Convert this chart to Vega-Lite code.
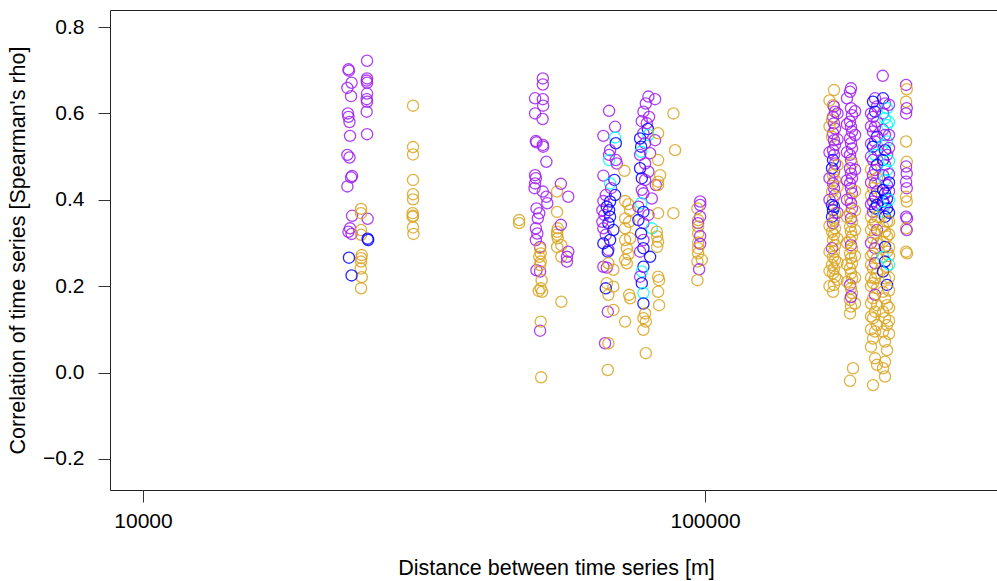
{
  "$schema": "https://vega.github.io/schema/vega-lite/v6.json",
  "width": 892,
  "height": 480,
  "autosize": {"type": "none"},
  "padding": {"left": 110, "top": 10, "right": 0, "bottom": 91},
  "background": "white",
  "config": {
    "view": {"stroke": "#222", "strokeWidth": 1},
    "axis": {"labelFont": "Liberation Sans", "titleFont": "Liberation Sans", "labelFontSize": 21, "titleFontSize": 21.5, "titleFontWeight": "normal", "labelColor": "#000", "titleColor": "#000", "tickColor": "#333", "tickSize": 12, "domain": false, "grid": false}
  },
  "data": {"values": [
    {"d":23200,"r":0.702,"g":"p"},{"d":23250,"r":0.699,"g":"p"},{"d":23500,"r":0.671,"g":"p"},{"d":23100,"r":0.659,"g":"p"},{"d":23450,"r":0.640,"g":"p"},{"d":23150,"r":0.600,"g":"p"},{"d":23200,"r":0.592,"g":"p"},{"d":23300,"r":0.580,"g":"p"},{"d":23350,"r":0.548,"g":"p"},{"d":23100,"r":0.504,"g":"p"},{"d":23300,"r":0.498,"g":"p"},{"d":23550,"r":0.455,"g":"p"},{"d":23450,"r":0.452,"g":"p"},{"d":23100,"r":0.431,"g":"p"},{"d":23550,"r":0.363,"g":"p"},{"d":23350,"r":0.334,"g":"p"},{"d":23200,"r":0.326,"g":"p"},{"d":23500,"r":0.321,"g":"p"},
    {"d":25040,"r":0.722,"g":"p"},{"d":25040,"r":0.681,"g":"p"},{"d":25000,"r":0.676,"g":"p"},{"d":25040,"r":0.671,"g":"p"},{"d":25040,"r":0.646,"g":"p"},{"d":25000,"r":0.633,"g":"p"},{"d":25040,"r":0.627,"g":"p"},{"d":25000,"r":0.604,"g":"p"},{"d":25040,"r":0.552,"g":"p"},{"d":25100,"r":0.356,"g":"p"},
    {"d":24430,"r":0.379,"g":"o"},{"d":24430,"r":0.369,"g":"o"},{"d":24430,"r":0.330,"g":"o"},{"d":24430,"r":0.319,"g":"o"},{"d":24500,"r":0.272,"g":"o"},{"d":24450,"r":0.265,"g":"o"},{"d":24430,"r":0.257,"g":"o"},{"d":24400,"r":0.241,"g":"o"},{"d":24500,"r":0.221,"g":"o"},{"d":24430,"r":0.195,"g":"o"},
    {"d":30230,"r":0.618,"g":"o"},{"d":30230,"r":0.522,"g":"o"},{"d":30230,"r":0.505,"g":"o"},{"d":30230,"r":0.446,"g":"o"},{"d":30230,"r":0.413,"g":"o"},{"d":30230,"r":0.401,"g":"o"},{"d":30180,"r":0.369,"g":"o"},{"d":30230,"r":0.363,"g":"o"},{"d":30180,"r":0.361,"g":"o"},{"d":30230,"r":0.336,"g":"o"},{"d":30280,"r":0.321,"g":"o"},
    {"d":23250,"r":0.266,"g":"b"},{"d":23500,"r":0.225,"g":"b"},{"d":25100,"r":0.310,"g":"b"},{"d":25150,"r":0.307,"g":"b"},

    {"d":46684,"r":0.353,"g":"o"},{"d":46684,"r":0.346,"g":"o"},
    {"d":51450,"r":0.681,"g":"p"},{"d":51450,"r":0.667,"g":"p"},{"d":49840,"r":0.635,"g":"p"},{"d":51450,"r":0.633,"g":"p"},{"d":51520,"r":0.618,"g":"p"},{"d":49840,"r":0.600,"g":"p"},{"d":51400,"r":0.587,"g":"p"},{"d":50000,"r":0.536,"g":"p"},{"d":50130,"r":0.533,"g":"p"},{"d":51450,"r":0.527,"g":"p"},{"d":51520,"r":0.523,"g":"p"},{"d":52200,"r":0.488,"g":"p"},{"d":49840,"r":0.457,"g":"p"},{"d":50000,"r":0.450,"g":"p"},{"d":49840,"r":0.438,"g":"p"},{"d":49730,"r":0.427,"g":"p"},{"d":51450,"r":0.419,"g":"p"},{"d":52200,"r":0.407,"g":"p"},{"d":52400,"r":0.392,"g":"p"},{"d":50130,"r":0.380,"g":"p"},{"d":50700,"r":0.369,"g":"p"},{"d":50400,"r":0.357,"g":"p"},{"d":50000,"r":0.334,"g":"p"},{"d":50300,"r":0.322,"g":"p"},{"d":50000,"r":0.307,"g":"p"},{"d":50870,"r":0.291,"g":"p"},{"d":50130,"r":0.237,"g":"p"},{"d":50870,"r":0.234,"g":"p"},{"d":50870,"r":0.097,"g":"p"},
    {"d":50870,"r":0.288,"g":"o"},{"d":51000,"r":0.276,"g":"o"},{"d":50700,"r":0.268,"g":"o"},{"d":51000,"r":0.257,"g":"o"},{"d":50870,"r":0.249,"g":"o"},{"d":51200,"r":0.214,"g":"o"},{"d":51000,"r":0.195,"g":"o"},{"d":50600,"r":0.189,"g":"o"},{"d":51300,"r":0.187,"g":"o"},{"d":51000,"r":0.118,"g":"o"},{"d":51100,"r":-0.011,"g":"o"},
    {"d":54540,"r":0.419,"g":"o"},{"d":54540,"r":0.372,"g":"o"},{"d":54700,"r":0.334,"g":"o"},{"d":54540,"r":0.326,"g":"o"},{"d":54540,"r":0.319,"g":"o"},{"d":54700,"r":0.311,"g":"o"},{"d":54540,"r":0.291,"g":"o"},{"d":55500,"r":0.295,"g":"o"},{"d":55500,"r":0.268,"g":"o"},{"d":55500,"r":0.164,"g":"o"},
    {"d":55400,"r":0.437,"g":"p"},{"d":57100,"r":0.407,"g":"p"},{"d":55400,"r":0.342,"g":"p"},{"d":57100,"r":0.280,"g":"p"},{"d":56800,"r":0.268,"g":"p"},{"d":56800,"r":0.257,"g":"p"},

    {"d":67493,"r":0.606,"g":"p"},{"d":69174,"r":0.569,"g":"p"},{"d":65934,"r":0.548,"g":"p"},{"d":69174,"r":0.544,"g":"c"},{"d":69373,"r":0.531,"g":"b"},{"d":67770,"r":0.515,"g":"p"},{"d":67493,"r":0.504,"g":"p"},{"d":67493,"r":0.492,"g":"c"},{"d":69373,"r":0.492,"g":"p"},{"d":69658,"r":0.484,"g":"p"},{"d":71873,"r":0.467,"g":"o"},{"d":65934,"r":0.456,"g":"p"},{"d":68976,"r":0.446,"g":"b"},{"d":67770,"r":0.438,"g":"c"},{"d":68048,"r":0.427,"g":"p"},{"d":69174,"r":0.411,"g":"b"},{"d":66585,"r":0.411,"g":"p"},{"d":65934,"r":0.397,"g":"p"},{"d":67770,"r":0.396,"g":"b"},{"d":72080,"r":0.397,"g":"o"},{"d":73062,"r":0.390,"g":"o"},{"d":66859,"r":0.384,"g":"b"},{"d":65666,"r":0.376,"g":"p"},{"d":67493,"r":0.376,"g":"b"},{"d":73573,"r":0.376,"g":"o"},{"d":66202,"r":0.365,"g":"p"},{"d":67770,"r":0.361,"g":"b"},{"d":72080,"r":0.357,"g":"o"},{"d":65666,"r":0.349,"g":"p"},{"d":67299,"r":0.346,"g":"b"},{"d":73272,"r":0.349,"g":"o"},{"d":65934,"r":0.334,"g":"p"},{"d":68694,"r":0.330,"g":"b"},{"d":72080,"r":0.334,"g":"o"},{"d":66585,"r":0.319,"g":"p"},{"d":73573,"r":0.311,"g":"o"},{"d":67770,"r":0.307,"g":"b"},{"d":72080,"r":0.307,"g":"o"},{"d":65934,"r":0.299,"g":"b"},{"d":67299,"r":0.284,"g":"p"},{"d":72584,"r":0.288,"g":"o"},{"d":67133,"r":0.280,"g":"b"},{"d":73062,"r":0.274,"g":"o"},{"d":72080,"r":0.261,"g":"o"},{"d":72584,"r":0.253,"g":"o"},{"d":65934,"r":0.245,"g":"p"},{"d":66859,"r":0.243,"g":"p"},{"d":68694,"r":0.238,"g":"o"},{"d":67299,"r":0.253,"g":"o"},{"d":66859,"r":0.207,"g":"o"},{"d":66585,"r":0.195,"g":"b"},{"d":68694,"r":0.199,"g":"o"},{"d":67299,"r":0.180,"g":"o"},{"d":73272,"r":0.180,"g":"o"},{"d":73573,"r":0.172,"g":"o"},{"d":67133,"r":0.141,"g":"p"},{"d":68694,"r":0.145,"g":"o"},{"d":72080,"r":0.118,"g":"o"},{"d":66395,"r":0.068,"g":"p"},{"d":67299,"r":0.068,"g":"o"},{"d":67133,"r":0.006,"g":"o"},

    {"d":79292,"r":0.639,"g":"p"},{"d":81494,"r":0.633,"g":"p"},{"d":78451,"r":0.623,"g":"p"},{"d":77682,"r":0.604,"g":"p"},{"d":79520,"r":0.592,"g":"p"},{"d":77174,"r":0.582,"g":"p"},{"d":78773,"r":0.577,"g":"p"},{"d":79097,"r":0.564,"g":"b"},{"d":77682,"r":0.554,"g":"p"},{"d":79292,"r":0.550,"g":"c"},{"d":76638,"r":0.542,"g":"b"},{"d":81494,"r":0.538,"g":"p"},{"d":78226,"r":0.531,"g":"p"},{"d":76953,"r":0.523,"g":"b"},{"d":76953,"r":0.511,"g":"c"},{"d":79847,"r":0.508,"g":"p"},{"d":76638,"r":0.504,"g":"p"},{"d":78226,"r":0.484,"g":"p"},{"d":76638,"r":0.473,"g":"b"},{"d":79292,"r":0.465,"g":"p"},{"d":77174,"r":0.450,"g":"b"},{"d":78226,"r":0.446,"g":"p"},{"d":81734,"r":0.434,"g":"p"},{"d":77174,"r":0.423,"g":"p"},{"d":77682,"r":0.415,"g":"p"},{"d":80405,"r":0.403,"g":"p"},{"d":76953,"r":0.392,"g":"c"},{"d":76106,"r":0.384,"g":"p"},{"d":77682,"r":0.372,"g":"b"},{"d":79292,"r":0.365,"g":"p"},{"d":76106,"r":0.353,"g":"b"},{"d":77682,"r":0.346,"g":"p"},{"d":80405,"r":0.334,"g":"c"},{"d":76953,"r":0.322,"g":"b"},{"d":77682,"r":0.307,"g":"p"},{"d":77682,"r":0.288,"g":"b"},{"d":76638,"r":0.280,"g":"p"},{"d":79847,"r":0.268,"g":"b"},{"d":77682,"r":0.245,"g":"b"},{"d":77174,"r":0.234,"g":"c"},{"d":76638,"r":0.222,"g":"p"},{"d":77174,"r":0.207,"g":"b"},{"d":77682,"r":0.184,"g":"c"},{"d":77682,"r":0.160,"g":"b"},{"d":78226,"r":0.137,"g":"o"},{"d":77682,"r":0.126,"g":"o"},{"d":78451,"r":0.118,"g":"o"},{"d":77682,"r":0.099,"g":"o"},{"d":78451,"r":0.045,"g":"o"},
    {"d":82502,"r":0.554,"g":"o"},{"d":82502,"r":0.492,"g":"o"},{"d":83180,"r":0.457,"g":"o"},{"d":82502,"r":0.442,"g":"o"},{"d":82502,"r":0.434,"g":"o"},{"d":82502,"r":0.369,"g":"o"},{"d":82050,"r":0.326,"g":"o"},{"d":82160,"r":0.315,"g":"o"},{"d":82502,"r":0.303,"g":"o"},{"d":82160,"r":0.291,"g":"o"},{"d":82502,"r":0.222,"g":"o"},{"d":82840,"r":0.214,"g":"o"},{"d":82502,"r":0.187,"g":"o"},{"d":82840,"r":0.156,"g":"o"},
    {"d":87837,"r":0.600,"g":"o"},{"d":88451,"r":0.515,"g":"o"},{"d":87837,"r":0.369,"g":"o"},
    {"d":98010,"r":0.396,"g":"p"},{"d":98010,"r":0.388,"g":"p"},{"d":96931,"r":0.380,"g":"o"},{"d":98010,"r":0.361,"g":"p"},{"d":97209,"r":0.353,"g":"o"},{"d":97209,"r":0.346,"g":"p"},{"d":97209,"r":0.338,"g":"o"},{"d":97209,"r":0.322,"g":"o"},{"d":98010,"r":0.316,"g":"p"},{"d":97209,"r":0.301,"g":"o"},{"d":98010,"r":0.298,"g":"p"},{"d":97209,"r":0.288,"g":"o"},{"d":97209,"r":0.276,"g":"o"},{"d":98700,"r":0.261,"g":"o"},{"d":96931,"r":0.257,"g":"o"},{"d":97600,"r":0.239,"g":"p"},{"d":96931,"r":0.214,"g":"o"},

    {"d":169620,"r":0.654,"g":"o"},{"d":168930,"r":0.619,"g":"o"},{"d":169620,"r":0.616,"g":"p"},{"d":170320,"r":0.604,"g":"p"},{"d":168930,"r":0.592,"g":"p"},{"d":168240,"r":0.585,"g":"o"},{"d":169620,"r":0.577,"g":"p"},{"d":170320,"r":0.565,"g":"p"},{"d":168930,"r":0.554,"g":"p"},{"d":168240,"r":0.546,"g":"o"},{"d":169620,"r":0.538,"g":"p"},{"d":170320,"r":0.527,"g":"p"},{"d":168930,"r":0.515,"g":"p"},{"d":169620,"r":0.504,"g":"p"},{"d":168930,"r":0.492,"g":"b"},{"d":170320,"r":0.484,"g":"p"},{"d":168240,"r":0.473,"g":"b"},{"d":169620,"r":0.465,"g":"p"},{"d":168930,"r":0.457,"g":"o"},{"d":170320,"r":0.446,"g":"o"},{"d":168930,"r":0.438,"g":"p"},{"d":169620,"r":0.427,"g":"p"},{"d":168240,"r":0.419,"g":"o"},{"d":170320,"r":0.411,"g":"p"},{"d":168930,"r":0.400,"g":"o"},{"d":168240,"r":0.388,"g":"b"},{"d":169620,"r":0.384,"g":"b"},{"d":168930,"r":0.376,"g":"b"},{"d":170320,"r":0.369,"g":"o"},{"d":168240,"r":0.361,"g":"b"},{"d":169620,"r":0.353,"g":"o"},{"d":168930,"r":0.346,"g":"p"},{"d":170320,"r":0.334,"g":"o"},{"d":168240,"r":0.326,"g":"o"},{"d":169620,"r":0.319,"g":"o"},{"d":168930,"r":0.307,"g":"o"},{"d":170320,"r":0.295,"g":"o"},{"d":168240,"r":0.288,"g":"p"},{"d":169620,"r":0.280,"g":"o"},{"d":168930,"r":0.268,"g":"o"},{"d":170320,"r":0.261,"g":"o"},{"d":168240,"r":0.249,"g":"o"},{"d":169620,"r":0.241,"g":"o"},{"d":168930,"r":0.230,"g":"o"},{"d":170320,"r":0.222,"g":"o"},{"d":169620,"r":0.203,"g":"o"},{"d":168930,"r":0.187,"g":"o"},
    {"d":166520,"r":0.63,"g":"o"},{"d":172070,"r":0.60,"g":"p"},{"d":166520,"r":0.57,"g":"o"},{"d":172070,"r":0.54,"g":"p"},{"d":166520,"r":0.51,"g":"p"},{"d":172070,"r":0.48,"g":"o"},{"d":166520,"r":0.45,"g":"p"},{"d":172070,"r":0.43,"g":"o"},{"d":166520,"r":0.40,"g":"p"},{"d":172070,"r":0.37,"g":"p"},{"d":166520,"r":0.34,"g":"o"},{"d":172070,"r":0.31,"g":"o"},{"d":166520,"r":0.28,"g":"o"},{"d":172070,"r":0.255,"g":"o"},{"d":166520,"r":0.235,"g":"o"},{"d":172070,"r":0.215,"g":"o"},{"d":166520,"r":0.20,"g":"o"},

    {"d":181850,"r":0.658,"g":"p"},{"d":181110,"r":0.650,"g":"p"},{"d":181850,"r":0.612,"g":"p"},{"d":182600,"r":0.596,"g":"p"},{"d":181110,"r":0.581,"g":"p"},{"d":181850,"r":0.569,"g":"p"},{"d":182600,"r":0.558,"g":"p"},{"d":181110,"r":0.542,"g":"p"},{"d":181850,"r":0.531,"g":"p"},{"d":182600,"r":0.519,"g":"p"},{"d":181110,"r":0.504,"g":"p"},{"d":181850,"r":0.492,"g":"p"},{"d":182600,"r":0.484,"g":"o"},{"d":181110,"r":0.473,"g":"p"},{"d":181850,"r":0.461,"g":"p"},{"d":182600,"r":0.450,"g":"p"},{"d":181110,"r":0.438,"g":"p"},{"d":181850,"r":0.427,"g":"p"},{"d":182600,"r":0.415,"g":"p"},{"d":181110,"r":0.403,"g":"o"},{"d":181850,"r":0.392,"g":"p"},{"d":182600,"r":0.380,"g":"p"},{"d":181110,"r":0.369,"g":"o"},{"d":181850,"r":0.357,"g":"p"},{"d":182600,"r":0.349,"g":"o"},{"d":181110,"r":0.338,"g":"o"},{"d":181850,"r":0.326,"g":"o"},{"d":182600,"r":0.315,"g":"o"},{"d":181110,"r":0.307,"g":"o"},{"d":181850,"r":0.295,"g":"p"},{"d":182600,"r":0.288,"g":"o"},{"d":181110,"r":0.276,"g":"o"},{"d":181850,"r":0.265,"g":"o"},{"d":182600,"r":0.253,"g":"o"},{"d":181110,"r":0.241,"g":"o"},{"d":181850,"r":0.230,"g":"o"},{"d":182600,"r":0.218,"g":"o"},{"d":181110,"r":0.203,"g":"p"},{"d":181850,"r":0.195,"g":"o"},{"d":182600,"r":0.184,"g":"o"},{"d":181110,"r":0.168,"g":"o"},{"d":181850,"r":0.153,"g":"o"},{"d":181110,"r":0.137,"g":"o"},{"d":183350,"r":0.010,"g":"o"},{"d":181110,"r":-0.019,"g":"o"},
    {"d":178900,"r":0.635,"g":"p"},{"d":184900,"r":0.605,"g":"p"},{"d":178900,"r":0.575,"g":"p"},{"d":184900,"r":0.55,"g":"p"},{"d":178900,"r":0.51,"g":"p"},{"d":184900,"r":0.47,"g":"p"},{"d":178900,"r":0.445,"g":"p"},{"d":184900,"r":0.42,"g":"o"},{"d":178900,"r":0.40,"g":"p"},{"d":184900,"r":0.375,"g":"o"},{"d":178900,"r":0.36,"g":"o"},{"d":184900,"r":0.33,"g":"o"},{"d":178900,"r":0.30,"g":"o"},{"d":184900,"r":0.27,"g":"o"},{"d":178900,"r":0.25,"g":"o"},{"d":184900,"r":0.22,"g":"o"},{"d":178900,"r":0.21,"g":"o"},{"d":184900,"r":0.16,"g":"o"},{"d":181850,"r":0.175,"g":"p"},

    {"d":197400,"r":0.60,"g":"p"},{"d":197400,"r":0.57,"g":"p"},{"d":197400,"r":0.53,"g":"p"},{"d":197400,"r":0.50,"g":"p"},{"d":197400,"r":0.47,"g":"o"},{"d":197400,"r":0.44,"g":"p"},{"d":197400,"r":0.41,"g":"o"},{"d":197400,"r":0.39,"g":"p"},{"d":197400,"r":0.36,"g":"o"},{"d":197400,"r":0.33,"g":"o"},{"d":197400,"r":0.30,"g":"p"},{"d":197400,"r":0.27,"g":"o"},{"d":197400,"r":0.25,"g":"o"},{"d":197400,"r":0.22,"g":"o"},{"d":197400,"r":0.20,"g":"o"},{"d":197400,"r":0.16,"g":"o"},{"d":197400,"r":0.13,"g":"o"},{"d":197400,"r":0.10,"g":"o"},{"d":197400,"r":0.06,"g":"o"},
    {"d":200660,"r":0.635,"g":"p"},{"d":199020,"r":0.627,"g":"b"},{"d":202310,"r":0.616,"g":"p"},{"d":200660,"r":0.604,"g":"b"},{"d":199020,"r":0.592,"g":"p"},{"d":202310,"r":0.581,"g":"p"},{"d":200660,"r":0.569,"g":"p"},{"d":199020,"r":0.558,"g":"p"},{"d":202310,"r":0.546,"g":"b"},{"d":200660,"r":0.535,"g":"p"},{"d":199020,"r":0.523,"g":"b"},{"d":202310,"r":0.515,"g":"p"},{"d":200660,"r":0.504,"g":"c"},{"d":199020,"r":0.492,"g":"p"},{"d":202310,"r":0.481,"g":"b"},{"d":200660,"r":0.469,"g":"p"},{"d":199020,"r":0.457,"g":"p"},{"d":202310,"r":0.450,"g":"o"},{"d":200660,"r":0.438,"g":"p"},{"d":199020,"r":0.427,"g":"o"},{"d":202310,"r":0.419,"g":"p"},{"d":200660,"r":0.407,"g":"b"},{"d":199020,"r":0.396,"g":"p"},{"d":202310,"r":0.388,"g":"b"},{"d":200660,"r":0.380,"g":"b"},{"d":199020,"r":0.372,"g":"p"},{"d":202310,"r":0.361,"g":"o"},{"d":200660,"r":0.349,"g":"o"},{"d":199020,"r":0.342,"g":"o"},{"d":202310,"r":0.330,"g":"p"},{"d":200660,"r":0.322,"g":"o"},{"d":199020,"r":0.311,"g":"o"},{"d":202310,"r":0.299,"g":"o"},{"d":200660,"r":0.288,"g":"p"},{"d":199020,"r":0.276,"g":"o"},{"d":202310,"r":0.265,"g":"o"},{"d":200660,"r":0.253,"g":"p"},{"d":199020,"r":0.241,"g":"o"},{"d":202310,"r":0.230,"g":"o"},{"d":200660,"r":0.218,"g":"o"},{"d":199020,"r":0.207,"g":"o"},{"d":202310,"r":0.195,"g":"o"},{"d":200660,"r":0.180,"g":"p"},{"d":199020,"r":0.172,"g":"o"},{"d":202310,"r":0.156,"g":"o"},{"d":200660,"r":0.141,"g":"o"},{"d":199020,"r":0.126,"g":"o"},{"d":202310,"r":0.110,"g":"o"},{"d":200660,"r":0.095,"g":"o"},{"d":199020,"r":0.079,"g":"o"},{"d":200660,"r":0.033,"g":"o"},{"d":202310,"r":0.018,"g":"o"},{"d":199020,"r":-0.029,"g":"o"},
    {"d":207100,"r":0.687,"g":"p"},
    {"d":207350,"r":0.635,"g":"b"},{"d":209050,"r":0.623,"g":"p"},{"d":210770,"r":0.612,"g":"c"},{"d":207350,"r":0.600,"g":"p"},{"d":209050,"r":0.589,"g":"c"},{"d":210770,"r":0.573,"g":"c"},{"d":207350,"r":0.562,"g":"p"},{"d":209050,"r":0.550,"g":"p"},{"d":210770,"r":0.535,"g":"c"},{"d":207350,"r":0.527,"g":"c"},{"d":209050,"r":0.515,"g":"b"},{"d":210770,"r":0.504,"g":"p"},{"d":207350,"r":0.492,"g":"b"},{"d":209050,"r":0.481,"g":"p"},{"d":210770,"r":0.469,"g":"c"},{"d":207350,"r":0.457,"g":"p"},{"d":209050,"r":0.446,"g":"c"},{"d":210770,"r":0.434,"g":"p"},{"d":207350,"r":0.423,"g":"b"},{"d":209050,"r":0.415,"g":"b"},{"d":210770,"r":0.403,"g":"b"},{"d":207350,"r":0.396,"g":"b"},{"d":209050,"r":0.388,"g":"p"},{"d":210770,"r":0.380,"g":"b"},{"d":207350,"r":0.372,"g":"c"},{"d":209050,"r":0.361,"g":"b"},{"d":210770,"r":0.349,"g":"o"},{"d":207350,"r":0.338,"g":"o"},{"d":209050,"r":0.326,"g":"o"},{"d":210770,"r":0.315,"g":"o"},{"d":207350,"r":0.303,"g":"o"},{"d":209050,"r":0.291,"g":"b"},{"d":210770,"r":0.280,"g":"o"},{"d":207350,"r":0.268,"g":"c"},{"d":209050,"r":0.257,"g":"b"},{"d":210770,"r":0.245,"g":"o"},{"d":207350,"r":0.234,"g":"b"},{"d":209050,"r":0.218,"g":"o"},{"d":210770,"r":0.203,"g":"b"},{"d":207350,"r":0.187,"g":"o"},{"d":209050,"r":0.172,"g":"o"},{"d":210770,"r":0.156,"g":"o"},{"d":207350,"r":0.141,"g":"o"},{"d":209050,"r":0.126,"g":"o"},{"d":210770,"r":0.110,"g":"o"},{"d":207350,"r":0.095,"g":"o"},{"d":209050,"r":0.072,"g":"o"},{"d":210770,"r":0.052,"g":"o"},{"d":209050,"r":0.025,"g":"o"},{"d":207350,"r":0.010,"g":"o"},{"d":209050,"r":-0.009,"g":"o"},
    {"d":212500,"r":0.62,"g":"p"},{"d":212500,"r":0.58,"g":"c"},{"d":212500,"r":0.55,"g":"p"},{"d":212500,"r":0.52,"g":"p"},{"d":212500,"r":0.49,"g":"c"},{"d":212500,"r":0.46,"g":"p"},{"d":212500,"r":0.44,"g":"b"},{"d":212500,"r":0.42,"g":"p"},{"d":212500,"r":0.40,"g":"c"},{"d":212500,"r":0.37,"g":"b"},{"d":212500,"r":0.35,"g":"o"},{"d":212500,"r":0.32,"g":"o"},{"d":212500,"r":0.29,"g":"o"},{"d":212500,"r":0.27,"g":"o"},{"d":212500,"r":0.25,"g":"c"},{"d":212500,"r":0.22,"g":"o"},{"d":212500,"r":0.19,"g":"o"},{"d":212500,"r":0.15,"g":"o"},{"d":212500,"r":0.12,"g":"o"},{"d":212500,"r":0.09,"g":"o"},

    {"d":227900,"r":0.666,"g":"p"},{"d":228500,"r":0.656,"g":"o"},{"d":227900,"r":0.627,"g":"o"},{"d":228500,"r":0.612,"g":"p"},{"d":227900,"r":0.600,"g":"p"},{"d":227900,"r":0.535,"g":"o"},{"d":228500,"r":0.488,"g":"o"},{"d":227900,"r":0.477,"g":"p"},{"d":228500,"r":0.461,"g":"p"},{"d":227900,"r":0.442,"g":"p"},{"d":228500,"r":0.427,"g":"p"},{"d":227900,"r":0.407,"g":"o"},{"d":228500,"r":0.396,"g":"o"},{"d":227900,"r":0.361,"g":"p"},{"d":228800,"r":0.357,"g":"p"},{"d":227900,"r":0.334,"g":"o"},{"d":228500,"r":0.330,"g":"p"},{"d":227900,"r":0.280,"g":"o"},{"d":228800,"r":0.276,"g":"o"}
  ]},
  "mark": {"type": "point", "shape": "circle", "filled": false, "size": 125, "strokeWidth": 1.3, "opacity": 0.85},
  "encoding": {
    "x": {"field": "d", "type": "quantitative", "scale": {"type": "log", "domain": [8734, 337600], "nice": false},
      "axis": {"values": [10000, 100000], "format": "d", "title": "Distance between time series [m]", "labelPadding": 8, "titleX": 446, "titleY": 78, "titleBaseline": "middle", "titleAlign": "center"}},
    "y": {"field": "r", "type": "quantitative", "scale": {"domain": [-0.2718, 0.8394], "nice": false, "zero": false},
      "axis": {"values": [-0.2, 0, 0.2, 0.4, 0.6, 0.8], "format": ".1f", "title": "Correlation of time series [Spearman's rho]", "labelPadding": 14, "titleX": -92, "titleY": 240, "titleAngle": -90, "titleBaseline": "middle", "titleAlign": "center"}},
    "color": {"field": "g", "type": "nominal", "scale": {"domain": ["p", "o", "b", "c"], "range": ["#A020F0", "#DAA520", "#0000FF", "#00FFFF"]}, "legend": null}
  }
}
